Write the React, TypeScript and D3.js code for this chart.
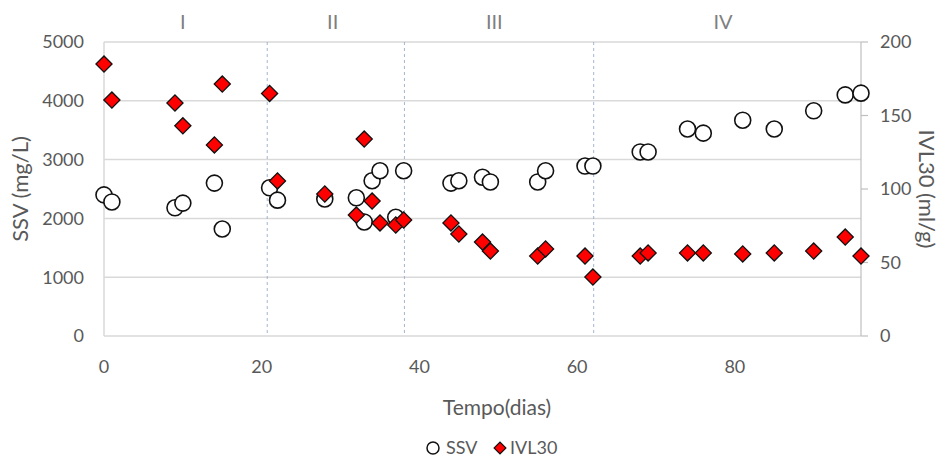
import React, { useEffect, useRef } from "react";
import * as d3 from "d3";

// sampling days (shared by both series)
const days = [0, 1, 9, 10, 14, 15, 21, 22, 28, 32, 33, 34, 35, 37, 38, 44, 45, 48, 49, 55, 56, 61, 62, 68, 69, 74, 76, 81, 85, 90, 94, 96];
const ssv = [2400, 2280, 2180, 2260, 2600, 1820, 2520, 2310, 2330, 2350, 1940, 2640, 2810, 2020, 2810, 2600, 2640, 2700, 2620, 2620, 2810, 2890, 2890, 3130, 3130, 3520, 3450, 3670, 3520, 3830, 4100, 4130];
const ivl30 = [185, 160.5, 158.5, 143, 130, 171.4, 165, 105.5, 96.6, 82.3, 134, 91.8, 76.9, 75.5, 78.9, 76.9, 69.4, 63.9, 57.8, 54.4, 59.2, 54.4, 40.1, 54.4, 56.5, 56.5, 56.5, 55.8, 56.5, 57.8, 67.3, 54.4];
const phaseBounds = [20.7, 38.1, 62.1];
const phases = [
  { label: "I", day: 10 },
  { label: "II", day: 29 },
  { label: "III", day: 49.5 },
  { label: "IV", day: 78.5 },
];
const xTicks = [0, 20, 40, 60, 80];
const leftTicks = [0, 1000, 2000, 3000, 4000, 5000];
const rightTicks = [0, 50, 100, 150, 200];

const W = 940;
const H = 457;
const FONT = "Lato, 'Open Sans', sans-serif";
const TXT = "#595959";

const App = () => {
  const svgRef = useRef<SVGSVGElement>(null);

  useEffect(() => {
    const svg = d3.select(svgRef.current);
    svg.selectAll("*").remove();

    const left = 104, right = 861, top = 42, bottom = 336;
    const x = d3.scaleLinear().domain([0, 96]).range([left, right]);
    const yL = d3.scaleLinear().domain([0, 5000]).range([bottom, top]);
    const yR = d3.scaleLinear().domain([0, 200]).range([bottom, top]);

    // gridlines
    svg.append("g")
      .selectAll("line")
      .data(leftTicks)
      .join("line")
      .attr("x1", left).attr("x2", right)
      .attr("y1", (d) => yL(d)).attr("y2", (d) => yL(d))
      .attr("stroke", "#d9d9d9").attr("stroke-width", 1.5);

    // left + right axis lines
    svg.append("line").attr("x1", left).attr("x2", left).attr("y1", top).attr("y2", bottom)
      .attr("stroke", "#d9d9d9").attr("stroke-width", 1.5);
    svg.append("line").attr("x1", right).attr("x2", right).attr("y1", top).attr("y2", bottom)
      .attr("stroke", "#bfbfbf").attr("stroke-width", 1.2);

    // right axis ticks
    svg.append("g")
      .selectAll("line")
      .data(rightTicks)
      .join("line")
      .attr("x1", right).attr("x2", right + 7)
      .attr("y1", (d) => yR(d)).attr("y2", (d) => yR(d))
      .attr("stroke", "#bfbfbf").attr("stroke-width", 1.2);

    // phase separators
    svg.append("g")
      .selectAll("line")
      .data(phaseBounds)
      .join("line")
      .attr("x1", (d) => x(d)).attr("x2", (d) => x(d))
      .attr("y1", top).attr("y2", bottom)
      .attr("stroke", "#9aaec8").attr("stroke-width", 0.9)
      .attr("stroke-dasharray", "3,3");

    const text = (g: any, size = 18) =>
      g.attr("font-family", FONT).attr("fill", TXT).attr("font-size", size);

    // tick labels
    svg.append("g").call(text)
      .selectAll("text")
      .data(leftTicks)
      .join("text")
      .attr("x", 84).attr("y", (d) => yL(d))
      .attr("dy", "0.35em").attr("text-anchor", "end")
      .text((d) => d);

    svg.append("g").call(text)
      .selectAll("text")
      .data(rightTicks)
      .join("text")
      .attr("x", 880).attr("y", (d) => yR(d))
      .attr("dy", "0.35em").attr("text-anchor", "start")
      .text((d) => d);

    svg.append("g").call(text)
      .selectAll("text")
      .data(xTicks)
      .join("text")
      .attr("x", (d) => x(d)).attr("y", 367)
      .attr("dy", "0.35em").attr("text-anchor", "middle")
      .text((d) => d);

    svg.append("g").call(text, 20)
      .attr("fill", "#7f7f7f")
      .selectAll("text")
      .data(phases)
      .join("text")
      .attr("x", (d) => x(d.day)).attr("y", 22)
      .attr("dy", "0.35em").attr("text-anchor", "middle")
      .text((d) => d.label);

    // axis titles
    svg.append("text").call(text, 22)
      .attr("transform", "translate(20,189) rotate(-90)")
      .attr("text-anchor", "middle").attr("dy", "0.35em")
      .text("SSV (mg/L)");
    svg.append("text").call(text, 22)
      .attr("transform", "translate(927,189) rotate(90)")
      .attr("text-anchor", "middle").attr("dy", "0.35em")
      .text("IVL30 (ml/g)");
    svg.append("text").call(text, 21)
      .attr("x", 497).attr("y", 408).attr("dy", "0.35em")
      .attr("text-anchor", "middle")
      .text("Tempo(dias)");

    const diamond = d3.symbol().type(d3.symbolSquare).size(130);

    // SSV circles
    svg.append("g")
      .selectAll("circle")
      .data(days.map((d, i) => ({ day: d, v: ssv[i] })))
      .join("circle")
      .attr("cx", (d) => x(d.day)).attr("cy", (d) => yL(d.v))
      .attr("r", 8)
      .attr("fill", "white").attr("stroke", "#111").attr("stroke-width", 1.6);

    // IVL30 diamonds
    svg.append("g")
      .selectAll("path")
      .data(days.map((d, i) => ({ day: d, v: ivl30[i] })))
      .join("path")
      .attr("d", diamond)
      .attr("transform", (d) => `translate(${x(d.day)},${yR(d.v)}) rotate(45)`)
      .attr("fill", "#ff0000").attr("stroke", "#111").attr("stroke-width", 1.3);

    // legend
    const lg = svg.append("g");
    lg.append("circle").attr("cx", 433).attr("cy", 448).attr("r", 6)
      .attr("fill", "white").attr("stroke", "#111").attr("stroke-width", 1.5);
    lg.append("text").call(text).attr("x", 446).attr("y", 448).attr("dy", "0.35em").text("SSV");
    lg.append("path").attr("d", d3.symbol().type(d3.symbolSquare).size(70))
      .attr("transform", "translate(500,448) rotate(45)")
      .attr("fill", "#ff0000").attr("stroke", "#111").attr("stroke-width", 1.2);
    lg.append("text").call(text).attr("x", 510).attr("y", 448).attr("dy", "0.35em").text("IVL30");
  }, []);

  return (
    <svg
      ref={svgRef}
      width={W}
      height={H}
      style={{ position: "absolute", left: 0, top: 0, background: "white" }}
    />
  );
};

export default App;
